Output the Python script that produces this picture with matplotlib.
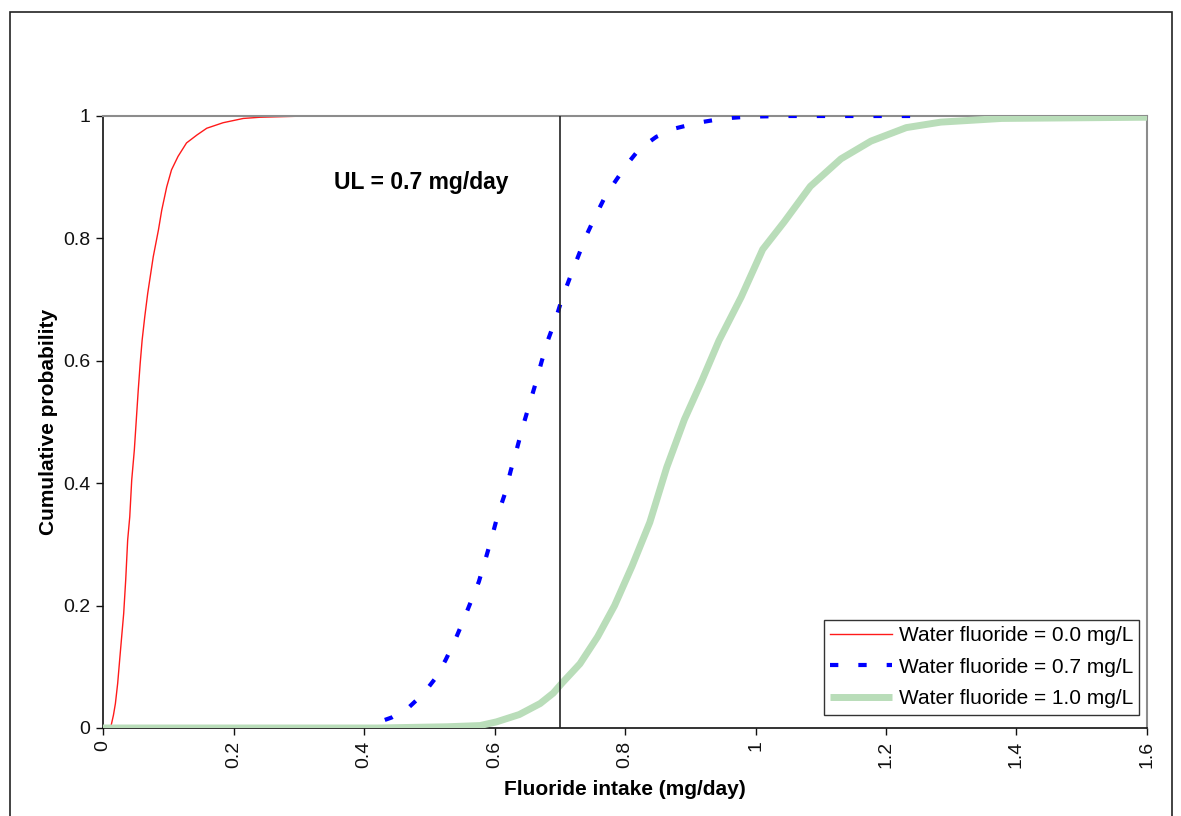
#!/usr/bin/env python3
"""Cumulative distribution of fluoride intake for three water fluoride levels."""

import matplotlib
matplotlib.use("Agg")
import matplotlib.pyplot as plt
from matplotlib.patches import Rectangle

plt.rcParams["font.family"] = ["Liberation Sans", "DejaVu Sans"]

# values
red_x = [0.0, 0.010, 0.012, 0.016, 0.019, 0.0225, 0.026, 0.0286, 0.0317, 0.0348,
         0.0378, 0.041, 0.044, 0.048, 0.051, 0.054, 0.057, 0.060, 0.064, 0.0685,
         0.077, 0.085, 0.090, 0.0976, 0.105, 0.115, 0.128, 0.144, 0.159, 0.184,
         0.215, 0.241, 0.312, 1.15]
red_y = [0.0, 0.0, 0.002, 0.021, 0.040, 0.073, 0.117, 0.149, 0.187, 0.242,
         0.307, 0.345, 0.405, 0.454, 0.503, 0.552, 0.596, 0.634, 0.672, 0.710,
         0.770, 0.814, 0.846, 0.884, 0.912, 0.934, 0.956, 0.969, 0.980, 0.989,
         0.996, 0.998, 1.0, 1.0]

blue_x = [0.0, 0.40, 0.41, 0.442, 0.469, 0.491, 0.510, 0.525, 0.539, 0.552,
          0.564, 0.576, 0.586, 0.596, 0.605, 0.616, 0.625, 0.634, 0.643, 0.653,
          0.663, 0.672, 0.682, 0.694, 0.704, 0.716, 0.728, 0.740, 0.754, 0.768,
          0.785, 0.803, 0.822, 0.848, 0.878, 0.912, 0.951, 0.989, 1.05, 1.25]
blue_y = [0.0, 0.0, 0.005, 0.017, 0.034, 0.056, 0.082, 0.111, 0.142, 0.175,
          0.207, 0.239, 0.275, 0.312, 0.348, 0.383, 0.421, 0.455, 0.491, 0.527,
          0.563, 0.598, 0.634, 0.669, 0.703, 0.737, 0.770, 0.803, 0.835, 0.865,
          0.893, 0.921, 0.946, 0.966, 0.980, 0.989, 0.996, 0.999, 1.0, 1.0]

green_x = [0.0, 0.42, 0.527, 0.578, 0.603, 0.638, 0.670, 0.690, 0.704, 0.731,
           0.758, 0.784, 0.811, 0.838, 0.864, 0.891, 0.918, 0.944, 0.978, 1.011,
           1.044, 1.084, 1.131, 1.177, 1.231, 1.284, 1.377, 1.6]
green_y = [0.0, 0.0, 0.002, 0.004, 0.010, 0.022, 0.040, 0.057, 0.074, 0.105,
           0.149, 0.200, 0.265, 0.336, 0.426, 0.504, 0.568, 0.633, 0.704, 0.782,
           0.827, 0.885, 0.930, 0.959, 0.981, 0.990, 0.996, 0.998]

series_labels = ["Water fluoride = 0.0 mg/L",
                 "Water fluoride = 0.7 mg/L",
                 "Water fluoride = 1.0 mg/L"]

ul_value = 0.7
x_ticks = [0, 0.2, 0.4, 0.6, 0.8, 1.0, 1.2, 1.4, 1.6]
x_tick_labels = ["0", "0.2", "0.4", "0.6", "0.8", "1", "1.2", "1.4", "1.6"]
y_ticks = [0, 0.2, 0.4, 0.6, 0.8, 1.0]
y_tick_labels = ["0", "0.2", "0.4", "0.6", "0.8", "1"]


def main() -> None:
    W, H = 1181, 816
    fig = plt.figure(figsize=(W / 100, H / 100), dpi=100)

    # outer chart border (bottom edge runs off the canvas)
    fig.patches.append(Rectangle((10 / W, -0.05), 1162 / W, 1 - 12 / H + 0.05,
                                 transform=fig.transFigure, fill=False,
                                 edgecolor="#222222", linewidth=1.2))

    ax = fig.add_axes([103 / W, 1 - 728 / H, 1044 / W, 612 / H])

    ax.plot(red_x, red_y, color="#ff1a1a", lw=1.0, label=series_labels[0],
            zorder=2)
    ax.plot(blue_x, blue_y, color="#0000ff", lw=3.0, dashes=(2.0, 4.8),
            label=series_labels[1], zorder=4)
    ax.plot(green_x, green_y, color="#b9ddb9", lw=5.0, label=series_labels[2],
            solid_capstyle="butt", zorder=5)

    ax.plot([ul_value, ul_value], [0, 1], color="#222222", lw=1.2, zorder=6)
    ax.text(0.487, 0.892, "UL = 0.7 mg/day", fontsize=16.5, fontweight="bold",
            ha="center", va="center")

    ax.set_xlim(0, 1.6)
    ax.set_ylim(0, 1)
    ax.set_xticks(x_ticks)
    ax.set_xticklabels(x_tick_labels, rotation=90, fontsize=14)
    ax.set_yticks(y_ticks)
    ax.set_yticklabels(y_tick_labels, fontsize=14)
    ax.tick_params(direction="out", length=5, width=1, colors="#111111",
                   pad=4)

    for side in ("top", "right"):
        ax.spines[side].set_color("#8c8c8c")
        ax.spines[side].set_linewidth(1.5)
    for side in ("left", "bottom"):
        ax.spines[side].set_color("#111111")
        ax.spines[side].set_linewidth(1.2)

    ax.set_xlabel("Fluoride intake (mg/day)", fontsize=15, fontweight="bold",
                  labelpad=9)
    ax.set_ylabel("Cumulative probability", fontsize=15, fontweight="bold",
                  labelpad=4)

    leg = ax.legend(loc="lower right", bbox_to_anchor=(0.9925, 0.022),
                    fontsize=15, frameon=True, fancybox=False,
                    edgecolor="black", handlelength=3.0, handletextpad=0.3,
                    borderpad=0.3, labelspacing=0.6, borderaxespad=0)
    leg.get_frame().set_linewidth(1.0)

    fig.savefig("out.png", dpi=100, facecolor="white")
    plt.close(fig)


if __name__ == "__main__":
    main()
